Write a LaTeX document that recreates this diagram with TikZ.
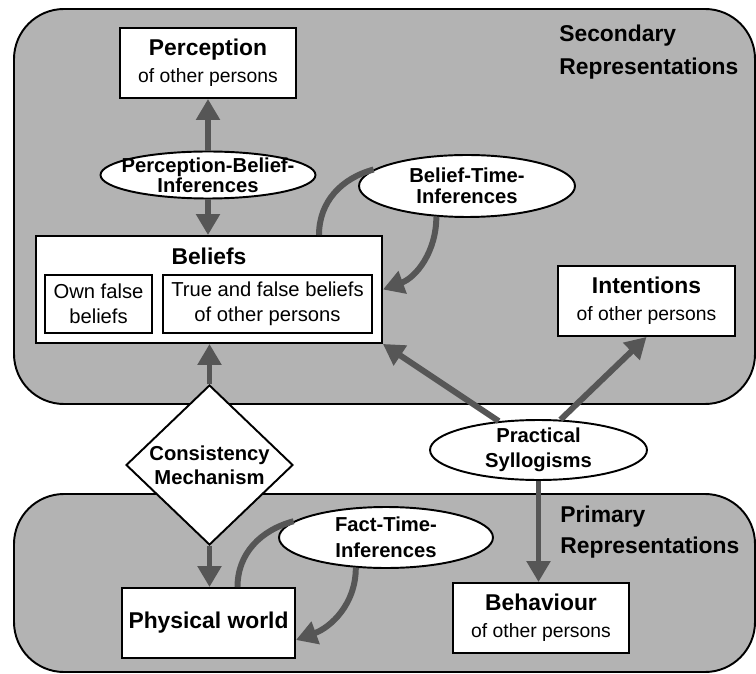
\documentclass[tikz,border=0pt]{standalone}
\usepackage{fontspec}
\setmainfont{Liberation Sans}
\usetikzlibrary{arrows.meta,shapes.geometric,calc}
\definecolor{region}{HTML}{B3B3B3}
\definecolor{link}{HTML}{565656}
\newcommand{\boxhead}[1]{{\fontsize{13}{15.5}\selectfont\bfseries #1}}

\tikzset{
  area/.style={fill=region,draw=black,line width=1.1pt,rounded corners=1cm},
  card/.style={draw=black,fill=white,line width=1.1pt,align=center,inner sep=0pt,
    font=\fontsize{11}{15.5}\selectfont},
  infer/.style={ellipse,draw=black,fill=white,line width=1.1pt,inner sep=0pt},
  infertext/.style={font=\fontsize{11.5}{14.5}\selectfont\bfseries,align=center},
  flow/.style={draw=link,line width=3.4pt,-{Triangle[length=0.42cm,width=0.46cm]}},
  loop/.style={draw=link,line width=3.4pt},
}

\begin{document}
\begin{tikzpicture}[x=0.02cm,y=0.02cm]
\useasboundingbox (0,0) rectangle (756,673);
% secondary and primary layers
\draw[area] (14,269) rectangle (755,664);
\draw[area] (14,1) rectangle (755,179);
\node[anchor=north west,inner sep=0pt,align=left,font=\fontsize{13}{18.5}\selectfont\bfseries]
  (secondary) at (559,648) {Secondary\\Representations};
\node[anchor=north west,inner sep=0pt,align=left,font=\fontsize{13}{17.5}\selectfont\bfseries]
  (primary) at (560,167) {Primary\\Representations};

% boxes
\node[card,minimum width=3.52cm,minimum height=1.4cm] (perception) at (208,610)
  {\boxhead{Perception}\\of other persons};
\node[card,minimum width=6.92cm,minimum height=2.14cm] (beliefs) at (209,383.5) {};
\node[font=\fontsize{13}{15.5}\selectfont\bfseries] (beliefshead) at (209,417) {Beliefs};
\node[card,font=\fontsize{11.5}{14.5}\selectfont,minimum width=2.14cm,minimum height=1.16cm]
  (own) at (98.5,369) {Own false\\beliefs};
\node[card,font=\fontsize{11.5}{14.5}\selectfont,minimum width=4.18cm,minimum height=1.16cm]
  (others) at (267.5,369) {True and false beliefs\\of other persons};
\node[card,minimum width=3.54cm,minimum height=1.4cm] (intentions) at (646.5,372)
  {\boxhead{Intentions}\\of other persons};
\node[card,minimum width=3.52cm,minimum height=1.4cm] (behaviour) at (541,55)
  {\boxhead{Behaviour}\\of other persons};
\node[card,minimum width=3.46cm,minimum height=1.4cm] (physical) at (208.5,50)
  {\boxhead{Physical world}};

% inferences
\node[infer,minimum width=4.3cm,minimum height=0.94cm,
  label={[infertext,font=\fontsize{11.5}{11.5}\selectfont\bfseries]center:Perception-Belief-\\Inferences}]
  (pbi) at (208,498) {};
\node[infer,minimum width=4.32cm,minimum height=1.24cm,
  label={[infertext,font=\fontsize{11.5}{12}\selectfont\bfseries]center:Belief-Time-\\Inferences}]
  (btw) at (467,487) {};
\node[infer,minimum width=4.34cm,minimum height=1.2cm,
  label={[infertext]center:Practical\\Syllogisms}] (ps) at (538.5,223) {};
\node[infer,minimum width=4.28cm,minimum height=1.22cm,
  label={[infertext]center:Fact-Time-\\Inferences}] (fti) at (386,135.5) {};
\node[diamond,draw=black,fill=white,line width=1.1pt,inner sep=0pt,
  minimum width=3.34cm,minimum height=3.2cm,
  label={[infertext,font=\fontsize{11.5}{13.5}\selectfont\bfseries]center:Consistency\\Mechanism}]
  (consist) at (209.5,208) {};

% connectors
\draw[flow] (pbi.north) -- (perception.south);
\draw[flow] (pbi.south) -- (pbi.south |- beliefs.north);
\draw[flow] (consist.north) -- (consist.north |- beliefs.south);
\draw[flow] (consist.south) -- (consist.south |- physical.north);
\draw[flow] (ps.144) -- (beliefs.south east);
\draw[flow] (ps.54) -- (intentions.south);
\draw[flow] (ps.south) -- (ps.south |- behaviour.north);
\draw[loop] ($(beliefs.north)+(110,0)$) to[out=90,in=195] (btw.170);
\draw[flow] (btw.225) to[out=-90,in=20] (beliefs.east);
\draw[loop] ($(physical.north)+(29,0)$) to[out=90,in=195] (fti.170);
\draw[flow] (fti.225) to[out=-90,in=20] ($(physical.east)+(0,-17)$);
\end{tikzpicture}
\end{document}
